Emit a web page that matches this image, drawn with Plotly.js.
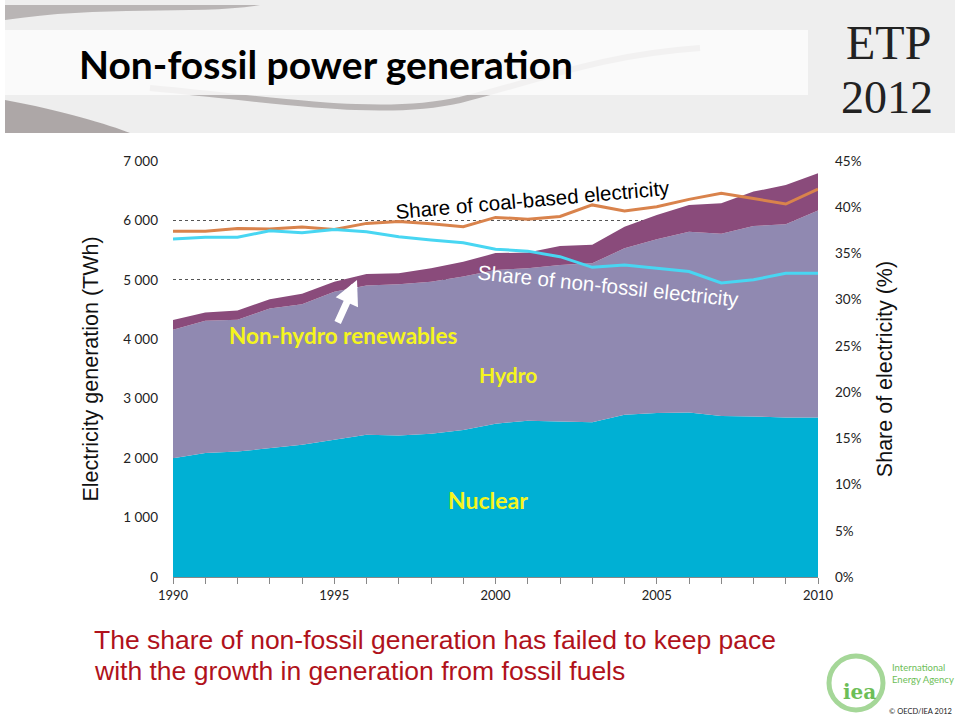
<!DOCTYPE html>
<html>
<head>
<meta charset="utf-8">
<script src="https://cdn.plot.ly/plotly-3.0.1.min.js"></script>
<style>html,body{margin:0;padding:0;background:#fff;}#chart{width:960px;height:716px;}</style>
</head>
<body>
<div id="chart"></div>
<script>
// ---- data ----
const years = [1990,1991,1992,1993,1994,1995,1996,1997,1998,1999,2000,2001,2002,2003,2004,2005,2006,2007,2008,2009,2010];
const nuclear = [2000,2085,2110,2170,2225,2310,2395,2380,2410,2475,2580,2630,2620,2605,2730,2760,2770,2710,2700,2685,2685];
const hydro = [2160,2225,2220,2350,2365,2490,2510,2545,2560,2580,2585,2565,2630,2675,2800,2925,3040,3065,3205,3250,3480];
const nonHydroRenewables = [165,140,155,155,175,170,195,185,225,250,285,265,320,310,365,405,450,515,580,660,630];
const coalShare = [37.4,37.4,37.7,37.65,37.85,37.6,38.25,38.45,38.2,37.9,38.9,38.7,39.0,40.25,39.6,40.05,40.85,41.5,40.95,40.35,41.95];
const nonFossilShare = [36.55,36.75,36.75,37.45,37.25,37.6,37.35,36.8,36.45,36.15,35.45,35.25,34.65,33.5,33.75,33.4,33.05,31.8,32.15,32.85,32.85];
const leftTickVals = [0,1000,2000,3000,4000,5000,6000,7000];
const leftTickText = ['0','1 000','2 000','3 000','4 000','5 000','6 000','7 000'];
const rightTickVals = [0,5,10,15,20,25,30,35,40,45];
const rightTickText = ['0%','5%','10%','15%','20%','25%','30%','35%','40%','45%'];
const xTickVals = [1990,1995,2000,2005,2010];

// ---- pixel helpers for decorations (plot area 173..818 x 161..577) ----
const L = 173, R = 818, T = 161, B = 577;
const px = x => (x - L) / (R - L);
const py = y => (B - y) / (B - T);

const traces = [
  {x: years, y: nuclear, name: 'Nuclear', type: 'scatter', mode: 'lines', stackgroup: 'one',
   line: {width: 0, color: '#00B0D4'}, fillcolor: '#00B0D4'},
  {x: years, y: hydro, name: 'Hydro', type: 'scatter', mode: 'lines', stackgroup: 'one',
   line: {width: 0, color: '#9089B1'}, fillcolor: '#9089B1'},
  {x: years, y: nonHydroRenewables, name: 'Non-hydro renewables', type: 'scatter', mode: 'lines', stackgroup: 'one',
   line: {width: 0, color: '#8A4B7B'}, fillcolor: '#8A4B7B'},
  {x: years, y: coalShare, name: 'Share of coal-based electricity', type: 'scatter', mode: 'lines', yaxis: 'y2',
   line: {width: 3, color: '#D9834C'}},
  {x: years, y: nonFossilShare, name: 'Share of non-fossil electricity', type: 'scatter', mode: 'lines', yaxis: 'y2',
   line: {width: 3, color: '#48D6F2'}}
];

const calibri = 'Lato, "Open Sans", sans-serif';
const arial = '"Liberation Sans", Arial, sans-serif';

const layout = {
  width: 960, height: 716,
  margin: {l: L, r: 960 - R, t: T, b: 716 - B, pad: 0},
  paper_bgcolor: '#ffffff', plot_bgcolor: '#ffffff',
  showlegend: false,
  xaxis: {
    range: [1990, 2010], tickvals: xTickVals, ticktext: xTickVals.map(String),
    ticks: 'outside', ticklen: 6, tickcolor: '#888', tickwidth: 1,
    minor: {dtick: 1, ticks: 'outside', ticklen: 6, tickcolor: '#888', showgrid: false},
    showgrid: false, zeroline: false, showline: true, linecolor: '#888', linewidth: 1,
    tickfont: {family: calibri, size: 13, color: '#222'}
  },
  yaxis: {
    range: [0, 7000], tickvals: leftTickVals, ticktext: leftTickText,
    showgrid: true, gridcolor: '#555', griddash: 'dot', gridwidth: 1,
    zeroline: false, showline: false, ticks: '', ticklabelstandoff: 14,
    tickfont: {family: calibri, size: 13.5, color: '#222'},
    title: {text: 'Electricity generation (TWh)', font: {family: arial, size: 21.5, color: '#111'}, standoff: 18},
    automargin: false
  },
  yaxis2: {
    range: [0, 45], overlaying: 'y', side: 'right', tickvals: rightTickVals, ticktext: rightTickText,
    showgrid: false, zeroline: false, showline: false, ticks: '', ticklabelstandoff: 16,
    tickfont: {family: calibri, size: 13.5, color: '#222'},
    title: {text: 'Share of electricity (%)', font: {family: arial, size: 21.5, color: '#111'}, standoff: 16},
    automargin: false
  },
  shapes: [
    // header banner
    {type: 'rect', xref: 'paper', yref: 'paper', x0: px(5), x1: px(955), y0: py(0), y1: py(133),
     fillcolor: '#EEEEEE', line: {width: 0}, layer: 'below'},
    {type: 'path', xref: 'paper', yref: 'paper', layer: 'below',
     path: `M ${px(5)},${py(20)} C ${px(100)},${py(5)} ${px(200)},${py(15)} ${px(260)},${py(5)} L ${px(5)},${py(5)} Z`,
     fillcolor: 'rgba(120,110,110,0.45)', line: {width: 0}},
    {type: 'path', xref: 'paper', yref: 'paper', layer: 'below',
     path: `M ${px(5)},${py(100)} C ${px(60)},${py(110)} ${px(110)},${py(125)} ${px(130)},${py(133)} L ${px(5)},${py(133)} Z`,
     fillcolor: 'rgba(120,110,110,0.55)', line: {width: 0}},
    {type: 'path', xref: 'paper', yref: 'paper', layer: 'below',
     path: `M ${px(150)},${py(88)} C ${px(280)},${py(100)} ${px(380)},${py(118)} ${px(460)},${py(100)} C ${px(540)},${py(80)} ${px(600)},${py(55)} ${px(700)},${py(48)}`,
     line: {width: 6, color: 'rgba(120,110,110,0.45)'}},
    {type: 'rect', xref: 'paper', yref: 'paper', x0: px(5), x1: px(808), y0: py(30), y1: py(95),
     fillcolor: 'rgba(252,252,252,0.85)', line: {width: 0}, layer: 'below'},
    // IEA logo ring
    {type: 'circle', xref: 'paper', yref: 'paper', x0: px(829), x1: px(883), y0: py(656), y1: py(710),
     line: {width: 5, color: '#A5D798'}, fillcolor: 'rgba(0,0,0,0)'}
  ],
  annotations: [
    {text: '<b>Non-fossil power generation</b>', xref: 'paper', yref: 'paper', x: px(77), y: py(64),
     xanchor: 'left', yanchor: 'middle', showarrow: false, font: {family: calibri, size: 39, color: '#000'}},
    {text: 'ETP', xref: 'paper', yref: 'paper', x: px(888), y: py(70), xanchor: 'center', yanchor: 'bottom',
     showarrow: false, borderpad: 0, font: {family: '"Liberation Serif", serif', size: 48, color: '#222'}},
    {text: '2012', xref: 'paper', yref: 'paper', x: px(887), y: py(71), xanchor: 'center', yanchor: 'top',
     showarrow: false, borderpad: 0, font: {family: '"Liberation Serif", serif', size: 46, color: '#222'}},
    {text: 'Share of coal-based electricity', xref: 'paper', yref: 'paper', x: px(532), y: py(199),
     xanchor: 'center', yanchor: 'middle', textangle: -5, showarrow: false, font: {family: arial, size: 20.5, color: '#000'}},
    {text: 'Share of non-fossil electricity', xref: 'paper', yref: 'paper', x: px(608), y: py(285),
     xanchor: 'center', yanchor: 'middle', textangle: 6, showarrow: false, font: {family: arial, size: 20.5, color: '#fff'}},
    {text: '<b>Non-hydro renewables</b>', xref: 'paper', yref: 'paper', x: px(343), y: py(335),
     xanchor: 'center', yanchor: 'middle', showarrow: false, font: {family: calibri, size: 22.5, color: '#F5F51E'}},
    {text: '<b>Hydro</b>', xref: 'paper', yref: 'paper', x: px(508), y: py(374),
     xanchor: 'center', yanchor: 'middle', showarrow: false, font: {family: calibri, size: 21, color: '#F5F51E'}},
    {text: '<b>Nuclear</b>', xref: 'paper', yref: 'paper', x: px(488), y: py(500),
     xanchor: 'center', yanchor: 'middle', showarrow: false, font: {family: calibri, size: 23, color: '#F5F51E'}},
    {text: '', xref: 'paper', yref: 'paper', x: px(357), y: py(280), ax: -20, ay: 44,
     showarrow: true, arrowcolor: '#ffffff', arrowwidth: 7, arrowhead: 2, arrowsize: 0.7},
    {text: 'The share of non-fossil generation has failed to keep pace', xref: 'paper', yref: 'paper',
     x: px(92), y: py(640), xanchor: 'left', yanchor: 'middle', showarrow: false,
     font: {family: arial, size: 26.5, color: '#B0121B'}},
    {text: 'with the growth in generation from fossil fuels', xref: 'paper', yref: 'paper',
     x: px(92), y: py(671), xanchor: 'left', yanchor: 'middle', showarrow: false,
     font: {family: arial, size: 26.5, color: '#B0121B'}},
    {text: '<b>iea</b>', xref: 'paper', yref: 'paper', x: px(859), y: py(692), xanchor: 'center', yanchor: 'middle',
     showarrow: false, font: {family: '"DejaVu Serif", serif', size: 20, color: '#6DBE57'}},
    {text: 'International<br>Energy Agency', xref: 'paper', yref: 'paper', x: px(890), y: py(673), xanchor: 'left', yanchor: 'middle',
     align: 'left', showarrow: false, font: {family: calibri, size: 9.5, color: '#6DBE57'}},
    {text: '© OECD/IEA 2012', xref: 'paper', yref: 'paper', x: px(920), y: py(711), xanchor: 'center', yanchor: 'middle',
     showarrow: false, font: {family: calibri, size: 7.5, color: '#222'}}
  ]
};

Plotly.newPlot('chart', traces, layout, {displayModeBar: false, staticPlot: true});
</script>
</body>
</html>
